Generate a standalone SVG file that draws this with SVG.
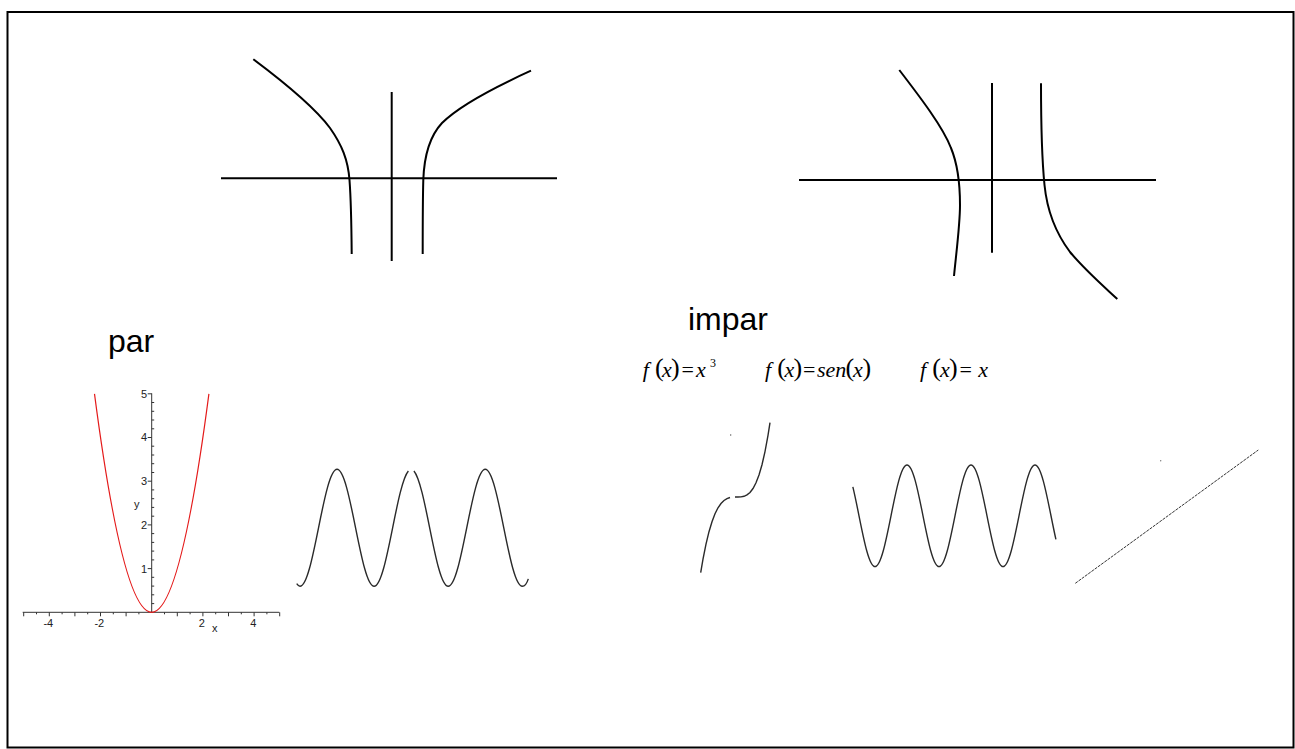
<svg xmlns="http://www.w3.org/2000/svg" width="1295" height="749" viewBox="0 0 1295 749">
<style>
.ink{fill:none;stroke:#000;stroke-width:2;stroke-linecap:butt}
.plot{fill:none;stroke:#2a2a2a;stroke-width:1.4}
.ax{fill:none;stroke:#333;stroke-width:1}
.lbl{font-family:"Liberation Sans",Arial,sans-serif;font-size:32px;fill:#000}
.tick{font-family:"Liberation Sans",Arial,sans-serif;font-size:11px;fill:#222}
.math{font-family:"Liberation Serif","Times New Roman",serif;font-size:22px;fill:#000}
.it{font-style:italic}
.par{font-size:26px}
</style>
<rect x="7.5" y="12" width="1286" height="735.5" fill="#fff" stroke="#000" stroke-width="2"/>
<g id="even-hyperbola">
<path class="ink" d="M221,178.3 H557"/>
<path class="ink" d="M391.7,92 V261"/>
<path class="ink" d="M253.3,59.3 C285,83 315,108 330,128 C342,145 348,160 349.5,180 C351,200 351.5,230 351.7,254"/>
<path class="ink" d="M531,70.7 C495,87 460,105 442,123 C428,138 424,160 423.3,180 C422.7,200 422.7,230 422.7,254"/>
</g>
<g id="odd-hyperbola">
<path class="ink" d="M799,180 H1156"/>
<path class="ink" d="M992,83 V252.7"/>
<path class="ink" d="M899.3,70 C920,97 943,127 951,148 C958,165 960,185 960,205 C960,225 956,255 954,276"/>
<path class="ink" d="M1041,83.3 C1041,120 1042,160 1044.5,185 C1047,210 1055,232 1070,252 C1085,270 1100,283 1117.3,299"/>
</g>
<g id="label-par"><text class="lbl" x="108" y="352">par</text></g>
<g id="label-impar"><text class="lbl" x="688" y="330">impar</text></g>
<g id="parabola-plot">
<path class="ax" d="M22.7,612.3 H279.3 M151.7,393.3 V612.3"/>
<path class="ax" d="M23.7,612.3v4M36.5,612.3v2M49.3,612.3v4M62.1,612.3v2M74.9,612.3v4M87.7,612.3v2M100.5,612.3v4M113.3,612.3v2M126.1,612.3v4M138.9,612.3v2M164.5,612.3v2M177.3,612.3v4M190.1,612.3v2M202.9,612.3v4M215.7,612.3v2M228.5,612.3v4M241.3,612.3v2M254.1,612.3v4M266.9,612.3v2M279.7,612.3v4"/>
<path class="ax" d="M147.7,568.6h4M147.7,524.9h4M147.7,481.2h4M147.7,437.5h4M147.7,393.8h4M151.7,603.6h2.5M151.7,594.8h2.5M151.7,586.1h2.5M151.7,577.3h2.5M151.7,559.9h2.5M151.7,551.1h2.5M151.7,542.4h2.5M151.7,533.6h2.5M151.7,516.2h2.5M151.7,507.4h2.5M151.7,498.7h2.5M151.7,489.9h2.5M151.7,472.5h2.5M151.7,463.7h2.5M151.7,455h2.5M151.7,446.2h2.5M151.7,428.8h2.5M151.7,420h2.5M151.7,411.3h2.5M151.7,402.5h2.5"/>
<text class="tick" text-anchor="end" x="147" y="572.5">1</text>
<text class="tick" text-anchor="end" x="147" y="528.8">2</text>
<text class="tick" text-anchor="end" x="147" y="485.1">3</text>
<text class="tick" text-anchor="end" x="147" y="441.4">4</text>
<text class="tick" text-anchor="end" x="147" y="397.7">5</text>
<text class="tick" text-anchor="middle" x="48.3" y="627">-4</text>
<text class="tick" text-anchor="middle" x="99.3" y="627">-2</text>
<text class="tick" text-anchor="middle" x="201.7" y="627">2</text>
<text class="tick" text-anchor="middle" x="253.3" y="627">4</text>
<text class="tick" x="212" y="632">x</text>
<text class="tick" x="134" y="508">y</text>
<path d="M94.5,393.8 Q151.7,830.8 208.9,393.8" fill="none" stroke="#e41a1a" stroke-width="1.2"/>
</g>
<g id="cosine-plot">
<path class="plot" d="M296.7,583.6 Q298.6,586.3 300,586.3 C313.49,586.3 323.56,469.3 337.05,469.3 C350.54,469.3 360.61,586.3 374.1,586.3 C386.65,586.3 396.24,485.11 408.37,470.94"/>
<path class="plot" d="M413.93,470.94 C426.06,485.11 435.65,586.3 448.2,586.3 C461.69,586.3 471.76,469.3 485.25,469.3 C498.74,469.3 508.81,586.3 522.3,586.3 Q526,586.3 528.3,578.9"/>
</g>
<g id="formulas">
<text class="math" y="376.7"><tspan class="it" x="642.7">f</tspan><tspan class="par" x="655" y="375.5">(</tspan><tspan class="it" x="662" y="376.7">x</tspan><tspan class="par" x="671" y="375.5">)</tspan><tspan x="681.5" y="376.7">=</tspan><tspan class="it" x="696">x</tspan><tspan x="710" y="367" font-size="12">3</tspan></text>
<text class="math" y="376.7"><tspan class="it" x="765">f</tspan><tspan class="par" x="777.3" y="375.5">(</tspan><tspan class="it" x="784.5" y="376.7">x</tspan><tspan class="par" x="793.5" y="375.5">)</tspan><tspan x="803" y="376.7">=</tspan><tspan class="it" x="817">sen</tspan><tspan class="par" x="845.5" y="375.5">(</tspan><tspan class="it" x="853" y="376.7">x</tspan><tspan class="par" x="862.5" y="375.5">)</tspan></text>
<text class="math" y="376.7"><tspan class="it" x="920">f</tspan><tspan class="par" x="932.3" y="375.5">(</tspan><tspan class="it" x="940" y="376.7">x</tspan><tspan class="par" x="949" y="375.5">)</tspan><tspan x="959.5" y="376.7">=</tspan><tspan class="it" x="978.3">x</tspan></text>
</g>
<g id="cubic-plot">
<polyline class="plot" points="700.7,572.6 703,559.1 706,544.1 709,531.7 712,521.7 715,513.8 718,507.8 721,503.5 724,500.5 727,498.6 730,497.5"/>
<polyline class="plot" points="735,497 738,497 741,496.9 744,496.3 747,494.9 750,492.5 753,488.5 756,482.8 759,475 762,464.7 765,451.6 768,435.3 770,422.6"/>
<circle cx="730.7" cy="435" r="0.7" fill="#555"/>
</g>
<g id="sine-plot">
<path class="plot" d="M852.85,486.94 C860.14,516.82 866.85,566.6 875,566.6 C886.65,566.6 895.35,465 907,465 C918.65,465 927.35,566.6 939,566.6 C950.65,566.6 959.35,465 971,465 C982.65,465 991.35,566.6 1003,566.6 C1014.65,566.6 1023.35,465 1035,465 C1042.69,465 1049.09,509.26 1055.91,539.35"/>
</g>
<g id="line-plot">
<path d="M1075.3,583.3 L1258.3,450" fill="none" stroke="#333" stroke-width="1" stroke-dasharray="3 1"/>
<circle cx="1160.7" cy="460.7" r="0.7" fill="#777"/>
</g>
</svg>
